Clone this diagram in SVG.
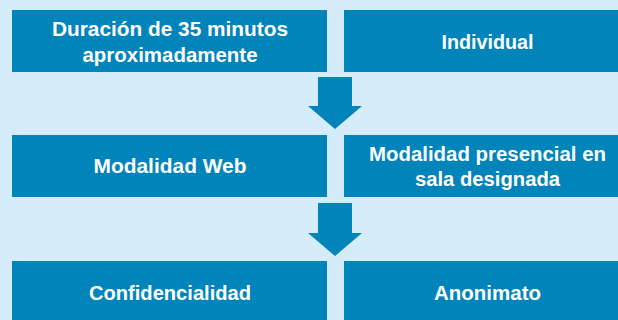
<svg xmlns="http://www.w3.org/2000/svg" width="618" height="320" viewBox="0 0 618 320">
<style>
.box{fill:#0084b9}
.t{font-family:"Liberation Sans",Arial,sans-serif;font-weight:bold;font-size:20px;fill:#ffffff;text-anchor:middle}
.arr{fill:#0084b9}
</style>
<rect x="0" y="0" width="618" height="320" fill="#d5ecfa"/>
<g id="connectors">
<polygon class="arr" points="318,77 352,77 352,106 362,106 335,129 308,106 318,106"/>
<polygon class="arr" points="318,203 352,203 352,233 362,233 335,256 308,233 318,233"/>
</g>
<g id="n1">
<rect class="box" x="12" y="10" width="315" height="62"/>
<text class="t" x="170" y="36" textLength="236" lengthAdjust="spacingAndGlyphs">Duración de 35 minutos</text>
<text class="t" x="170" y="61.5" textLength="175" lengthAdjust="spacingAndGlyphs">aproximadamente</text>
</g>
<g id="n2">
<rect class="box" x="344" y="10" width="287" height="62"/>
<text class="t" x="487.5" y="49" textLength="92" lengthAdjust="spacingAndGlyphs">Individual</text>
</g>
<g id="n3">
<rect class="box" x="12" y="135" width="315" height="62"/>
<text class="t" x="170" y="173" textLength="153" lengthAdjust="spacingAndGlyphs">Modalidad Web</text>
</g>
<g id="n4">
<rect class="box" x="344" y="135" width="287" height="62"/>
<text class="t" x="487.5" y="160.5" textLength="237" lengthAdjust="spacingAndGlyphs">Modalidad presencial en</text>
<text class="t" x="487.5" y="185.5" textLength="145" lengthAdjust="spacingAndGlyphs">sala designada</text>
</g>
<g id="n5">
<rect class="box" x="12" y="261" width="315" height="70"/>
<text class="t" x="170" y="300" textLength="162" lengthAdjust="spacingAndGlyphs">Confidencialidad</text>
</g>
<g id="n6">
<rect class="box" x="344" y="261" width="287" height="70"/>
<text class="t" x="487.5" y="300" textLength="107" lengthAdjust="spacingAndGlyphs">Anonimato</text>
</g>
</svg>
